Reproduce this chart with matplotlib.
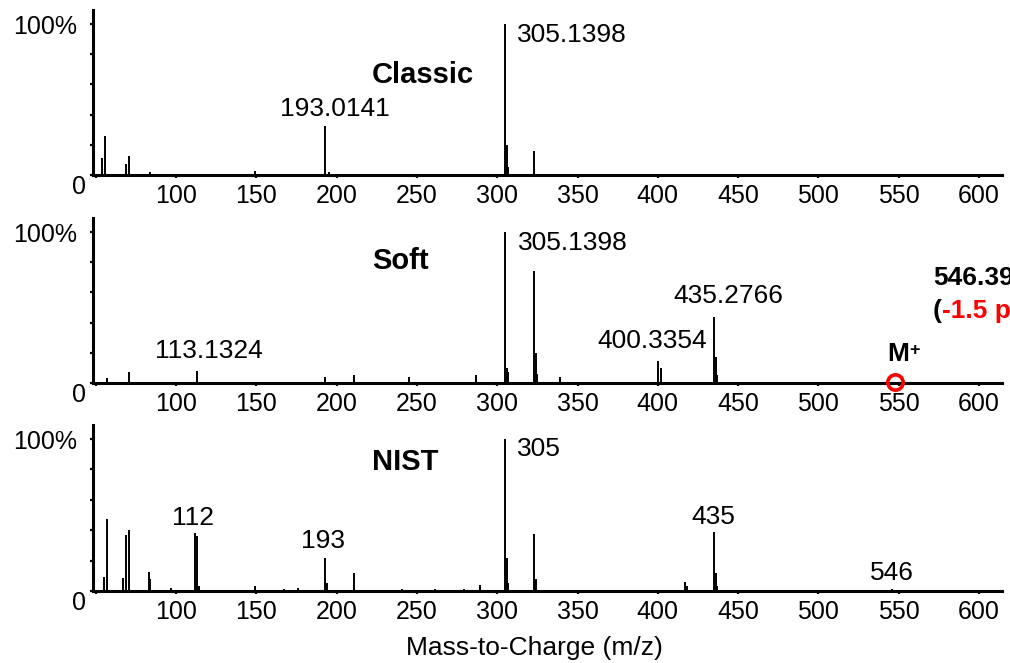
import matplotlib
matplotlib.use('Agg')
import matplotlib.pyplot as plt
import matplotlib.transforms as mtransforms

plt.rcParams['font.family'] = ['Liberation Sans', 'DejaVu Sans']

# spectra (m/z, relative intensity %)
classic_mz = [54, 56, 69, 71, 84, 149, 193, 195, 305, 306, 307, 323, 417]
classic_int = [11, 26, 7, 12.5, 2, 3, 32.5, 2, 100, 20, 5, 16, 1]

soft_mz = [57, 71, 113, 193, 211, 245, 287, 305, 306, 307, 323, 324, 325,
           339, 400, 402, 435, 436, 437, 546]
soft_int = [3, 7, 8, 4, 5, 4, 5, 100, 10, 7, 74, 20, 6,
            4, 14.5, 10, 44, 17, 5, 0.5]

nist_mz = [55, 57, 67, 69, 71, 83, 84, 97, 112, 113, 114, 149, 167, 176,
           193, 194, 211, 241, 261, 279, 289, 305, 306, 307, 323, 324,
           417, 418, 435, 436, 437, 546]
nist_int = [9, 47.5, 8.5, 37, 40, 12.4, 7.7, 2, 38, 36, 3, 3, 1.5, 2,
            22, 5.5, 11.7, 1, 1, 1, 4, 100, 22, 5, 37.5, 8,
            6, 3, 38.6, 11.7, 3, 1]

titles = ['Classic', 'Soft', 'NIST']
x_ticks = [50, 100, 150, 200, 250, 300, 350, 400, 450, 500, 550, 600]
x_ticklabels = [''] + [str(t) for t in x_ticks[1:]]
y_ticks = [0, 20, 40, 60, 80, 100]
y_ticklabels = ['0', '', '', '', '', '100%']

mol_ion_mz = 546
mol_ion_text = '546.3938'
mol_ion_err = '-1.5 ppm)'

# peak labels: text, x, y, horizontal alignment
classic_labels = [('305.1398', 312, 92.7, 'left'), ('193.0141', 199, 43.7, 'center')]
soft_labels = [('305.1398', 313, 92.7, 'left'), ('113.1324', 120.5, 21.2, 'center'),
               ('400.3354', 396.7, 27.8, 'center'), ('435.2766', 443.7, 57.6, 'center')]
nist_labels = [('305', 312, 93.4, 'left'), ('112', 110.3, 48.1, 'center'),
               ('193', 191.2, 32.6, 'center'), ('435', 434.8, 48.7, 'center'),
               ('546', 545.6, 11.7, 'center')]

fig = plt.figure(figsize=(10.1, 6.63), dpi=100)
boxes = [[0.0921, 0.7360, 0.9, 0.2489],
         [0.0921, 0.4223, 0.9, 0.2489],
         [0.0921, 0.1086, 0.9, 0.2504]]
title_y = [66.5, 80.8, 84.8]

spectra = [(classic_mz, classic_int, classic_labels),
           (soft_mz, soft_int, soft_labels),
           (nist_mz, nist_int, nist_labels)]

axes = []
for i, (mz, inten, labels) in enumerate(spectra):
    ax = fig.add_axes(boxes[i])
    axes.append(ax)
    ax.vlines(mz, 0, inten, color='black', lw=1.4)
    ax.set_xlim(48.3, 614.3)
    ax.set_ylim(0, 109.3)
    for s in ['top', 'right']:
        ax.spines[s].set_visible(False)
    for s in ['left', 'bottom']:
        ax.spines[s].set_linewidth(2.2)
    ax.set_xticks(x_ticks)
    ax.set_xticklabels(x_ticklabels)
    ax.set_yticks(y_ticks)
    ax.set_yticklabels(y_ticklabels)
    ax.tick_params(axis='x', length=2.5, width=1.6, pad=4, labelsize=18)
    ax.tick_params(axis='y', length=2.5, width=1.6, pad=9, labelsize=18)
    zero = ax.yaxis.get_major_ticks()[0].label1
    zero.set_verticalalignment('top')
    zero.set_transform(zero.get_transform() +
                       mtransforms.ScaledTranslation(0.09, 0.0, fig.dpi_scale_trans))
    ax.text(222, title_y[i], titles[i], fontsize=21, fontweight='bold',
            ha='left', va='center')
    for txt, lx, ly, ha in labels:
        ax.text(lx, ly, txt, fontsize=19, ha=ha, va='center')

# molecular ion marker on the soft spectrum
ax = axes[1]
ax.plot([mol_ion_mz + 1.5], [0.5], 'o', ms=11, mfc='none', mec='red',
        mew=2.6, clip_on=False, zorder=5)
m_txt = ax.text(549.5, 19, 'M', fontsize=19, fontweight='bold',
                ha='center', va='center')
ax.annotate('+', xy=(1, 1), xycoords=m_txt, fontsize=13, fontweight='bold',
            ha='left', va='top')
ax.text(571.4, 69.5, mol_ion_text, fontsize=19, fontweight='bold',
        ha='left', va='center')
paren = ax.text(571.4, 47.7, '(', fontsize=19, fontweight='bold',
                ha='left', va='center')
ax.annotate(mol_ion_err, xy=(1, 0), xycoords=paren, fontsize=19,
            fontweight='bold', color='red', ha='left', va='bottom')

fig.text(0.529, 0.022, 'Mass-to-Charge (m/z)', fontsize=19, ha='center', va='center')

fig.savefig('out.png', dpi=100)
